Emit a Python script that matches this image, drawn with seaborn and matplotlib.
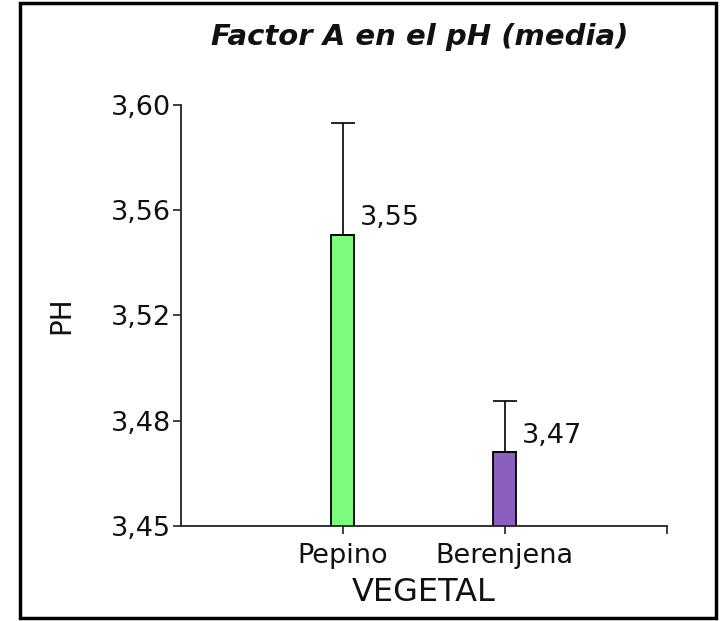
import matplotlib
matplotlib.use("Agg")
import matplotlib.pyplot as plt
import seaborn as sns
import pandas as pd
import numpy as np
from matplotlib.patches import Rectangle

# Data
categories = ["Pepino", "Berenjena"]
means = [3.5537, 3.4762]
upper_err = [0.0399, 0.0185]
value_labels = ["3,55", "3,47"]
bar_colors = ["#7CFC7C", "#8B5FBF"]
ytick_values = [3.45, 3.4875, 3.525, 3.5625, 3.60]
ytick_labels = ["3,45", "3,48", "3,52", "3,56", "3,60"]
title = "Factor A en el pH (media)"
xlabel = "VEGETAL"
ylabel = "PH"

sns.set_theme(style="white")
plt.rcParams["font.family"] = ["DejaVu Sans"]

fig = plt.figure(figsize=(7.2, 6.21), dpi=100)
ax = fig.add_axes([0.2514, 0.153, 0.926 - 0.2514, 0.831 - 0.153])

df = pd.DataFrame({"veg": categories, "ph": means})
sns.barplot(data=df, x="veg", y="ph", hue="veg", palette=bar_colors,
            order=categories, hue_order=categories, legend=False, saturation=1,
            width=0.143, edgecolor="black", linewidth=1.3, ax=ax, errorbar=None)

x = np.arange(len(categories))
ax.errorbar(x, means, yerr=[np.zeros(len(means)), upper_err], fmt="none",
            ecolor="black", elinewidth=1.2, capsize=8.5, capthick=1.2, zorder=1)

for i, (m, e, lab) in enumerate(zip(means, upper_err, value_labels)):
    ax.annotate(lab, xy=(i + 0.0715, m), xytext=(4, 7), textcoords="offset points",
                ha="left", va="baseline", fontsize=19.5, color="#111111")

ax.set_ylim(3.45, 3.60)
ax.set_xlim(-1.0, 2.0)
ax.set_yticks(ytick_values)
ax.set_yticklabels(ytick_labels, fontsize=19.5, color="#111111")
ax.set_xticks([0, 1, 2])
ax.set_xticklabels(categories + [""], fontsize=19.5, color="#111111")
ax.tick_params(axis="both", direction="out", length=6, width=1.2, color="#222222",
               bottom=True, left=True)
ax.tick_params(axis="x", pad=6)
ax.tick_params(axis="y", pad=1)

for s in ["top", "right"]:
    ax.spines[s].set_visible(False)
for s in ["left", "bottom"]:
    ax.spines[s].set_color("#222222")
    ax.spines[s].set_linewidth(1.3)

ax.set_xlabel(xlabel, fontsize=23, color="#111111", labelpad=6)
ax.set_ylabel(ylabel, fontsize=20, color="#111111", labelpad=26)
fig.text(0.583, 0.940, title, ha="center", va="center", fontsize=21,
         fontweight="bold", fontstyle="italic", color="#111111")

# Figure frame
fig.patches.append(Rectangle((20 / 720, 3 / 621), (716 - 20) / 720, (618 - 3) / 621,
                             transform=fig.transFigure, fill=False,
                             edgecolor="black", linewidth=2.5))

fig.savefig("out.png", dpi=100)
